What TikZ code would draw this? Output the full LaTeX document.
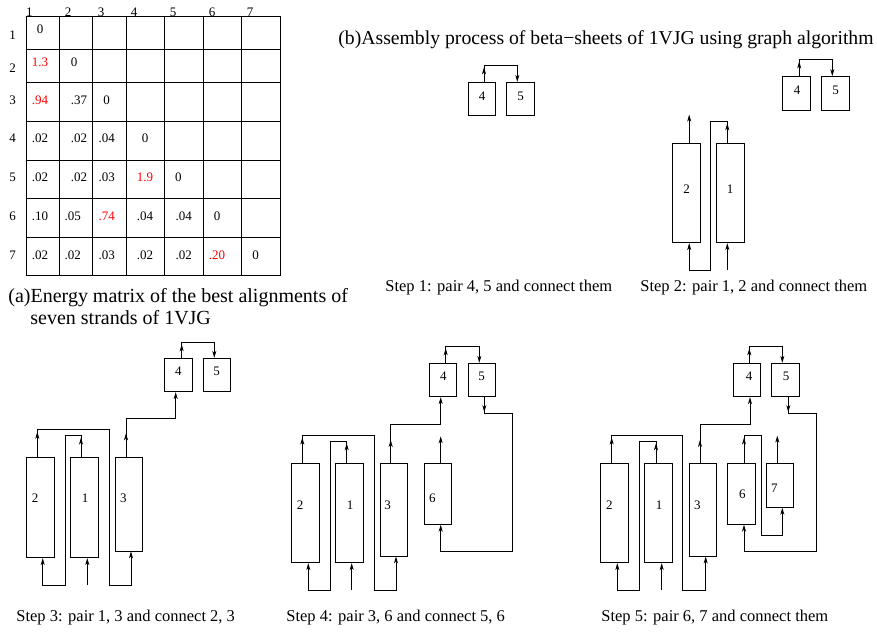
\documentclass[tikz,border=0pt]{standalone}
\usepackage{fontspec}
\setmainfont{Liberation Serif}
\usetikzlibrary{arrows.meta,decorations.markings}
\begin{document}
\begin{tikzpicture}[x=1pt,y=-1pt,
  >={Stealth[length=7pt,width=4pt,inset=2pt]},
  line width=0.8pt,
  bx/.style={draw, inner sep=0pt, minimum width=27.5pt},
  sq/.style={bx, minimum height=33.4pt},
  lab/.style={font=\fontsize{13}{15}\selectfont, inner sep=0pt},
  hi/.style={lab, text=red},
  stepcap/.style={font=\fontsize{16.5}{19}\selectfont, inner sep=0pt, anchor=west},
  bigcap/.style={font=\fontsize{20}{23}\selectfont, inner sep=0pt, anchor=west},
  arrowat/.style={postaction={decorate}, decoration={markings, mark=at position #1 with {\arrow{>}}}},
]
\useasboundingbox (0,0) rectangle (877,632);

% ---------- (a) matrix ----------
\foreach \x in {26.7,59.3,92.7,126,164.3,203,241.7,280.3} \draw[line width=1pt] (\x,16) -- (\x,275.7);
\foreach \y in {16,49.3,82.7,121.3,160,198.7,237.3,275.7} \draw[line width=1pt] (26.7,\y) -- (280.3,\y);
\foreach \x/\t [count=\i] in {29.3/1,68/2,101/3,134/4,173/5,212/6,250/7}
  \node[lab, anchor=base] (ch\i) at (\x,16) {\t};
\foreach \y/\t [count=\i] in {35/1,68/2,100.7/3,138/4,177/5,216.7/6,255/7}
  \node[lab] (rh\i) at (12.7,\y) {\t};
\node[lab] (m11) at (40,29) {0};
\node[hi]  (m21) at (40,62) {1.3};
\node[lab] (m22) at (74,62) {0};
\node[hi]  (m31) at (40,100.5) {.94};
\node[lab] (m32) at (79,100.5) {.37};
\node[lab] (m33) at (106.7,100.5) {0};
\node[lab] (m41) at (40,138) {.02};
\node[lab] (m42) at (79,138) {.02};
\node[lab] (m43) at (106.7,138) {.04};
\node[lab] (m44) at (145,138) {0};
\node[lab] (m51) at (40,177.3) {.02};
\node[lab] (m52) at (79,177.3) {.02};
\node[lab] (m53) at (106.7,177.3) {.03};
\node[hi]  (m54) at (145,177.3) {1.9};
\node[lab] (m55) at (178.3,177.3) {0};
\node[lab] (m61) at (40,216.7) {.10};
\node[lab] (m62) at (72.7,216.7) {.05};
\node[hi]  (m63) at (106.7,216.7) {.74};
\node[lab] (m64) at (145,216.7) {.04};
\node[lab] (m65) at (183.7,216.7) {.04};
\node[lab] (m66) at (217,216.7) {0};
\node[lab] (m71) at (40,255) {.02};
\node[lab] (m72) at (72.7,255) {.02};
\node[lab] (m73) at (106.7,255) {.03};
\node[lab] (m74) at (145,255) {.02};
\node[lab] (m75) at (183.7,255) {.02};
\node[hi]  (m76) at (217,255) {.20};
\node[lab] (m77) at (255.7,255) {0};
\node[bigcap] (capa1) at (8,298) {(a)Energy matrix of the best alignments of};
\node[bigcap] (capa2) at (30,318) {seven strands of 1VJG};

% ---------- (b) heading ----------
\node[bigcap, font=\fontsize{19.7}{22}\selectfont] (capb) at (338,40) {(b)Assembly process of beta−sheets of 1VJG using graph algorithm};

% ---------- Step 1 ----------
\node[sq] (s1d) at (482,99) {};
\node[sq] (s1e) at (520.5,99) {};
\node[lab] (s1dl) at (482,96) {4};
\node[lab] (s1el) at (520.5,96) {5};
\draw[->, arrowat=14.6pt] ([xshift=2]s1d.north) -- ++(0,-16.6) -| ([xshift=-3.2]s1e.north);
\node[stepcap] (cap1) at (385,288) {Step 1: pair 4, 5 and connect them};

% ---------- Step 2 ----------
\node[sq] (s2d) at (796.2,93.3) {};
\node[sq] (s2e) at (835.5,93.3) {};
\node[lab] (s2dl) at (797,90) {4};
\node[lab] (s2el) at (835.7,90) {5};
\draw[->, arrowat=14.7pt] ([xshift=3]s2d.north) -- ++(0,-16.7) -| ([xshift=-3.2]s2e.north);
\node[bx, minimum height=99.4pt] (s2b) at (686.2,193) {};
\node[bx, minimum height=99.4pt] (s2a) at (730.5,193) {};
\node[lab] (s2bl) at (686.7,189.3) {2};
\node[lab] (s2al) at (730,189.3) {1};
\draw[->] ([xshift=3]s2b.north) -- ++(0,-28.3);
\draw[->, arrowat=19.6pt] ([xshift=-3.2]s2a.north) -- ++(0,-21.6) -| (710.7,270) -| ([xshift=3]s2b.south);
\coordinate (s2f) at (727.3,270);
\draw[->] (s2f) -- (s2f |- s2a.south);
\node[stepcap] (cap2) at (640,288) {Step 2: pair 1, 2 and connect them};

% ---------- Step 3 ----------
\node[bx, minimum height=100pt] (s3b) at (40.3,507.7) {};
\node[bx, minimum height=100pt] (s3a) at (84.5,507.7) {};
\node[bx, minimum height=93.3pt] (s3c) at (128.8,504.3) {};
\node[sq] (s3d) at (178.3,375) {};
\node[sq] (s3e) at (216.7,375) {};
\node[lab] (s3bl) at (35,498.3) {2};
\node[lab] (s3al) at (85,498.3) {1};
\node[lab] (s3cl) at (123.3,498.3) {3};
\node[lab] (s3dl) at (178.3,371.7) {4};
\node[lab] (s3el) at (216.7,371.7) {5};
\draw[->, arrowat=13.6pt] ([xshift=3.4]s3d.north) -- ++(0,-15.6) -| ([xshift=-2.4]s3e.north);
\draw[->, arrowat=24pt] ([xshift=-2.8]s3c.north) -- ++(0,-38.4) -| ([xshift=-2.6]s3d.south);
\draw[->, arrowat=25.5pt] ([xshift=-3]s3b.north) -- ++(0,-27.7) -| (109.3,585) -| ([xshift=2.2]s3c.south);
\draw[->, arrowat=19.7pt] ([xshift=-3.5]s3a.north) -- ++(0,-21.7) -| (65,585) -| ([xshift=2.4]s3b.south);
\coordinate (s3f) at (87.3,585);
\draw[->] (s3f) -- (s3f |- s3a.south);
\node[stepcap] (cap3) at (16,618) {Step 3: pair 1, 3 and connect 2, 3};

% ---------- Step 4 ----------
\node[bx, minimum height=99.4pt] (s4b) at (305.5,513) {};
\node[bx, minimum height=99.4pt] (s4a) at (349.5,513) {};
\node[bx, minimum height=92.7pt] (s4c) at (393.7,509.7) {};
\node[bx, minimum height=61pt] (s4f) at (437.8,493.8) {};
\node[sq] (s4d) at (442.8,380) {};
\node[sq] (s4e) at (481.7,380) {};
\node[lab] (s4bl) at (300,505) {2};
\node[lab] (s4al) at (350,505) {1};
\node[lab] (s4cl) at (387.7,505) {3};
\node[lab] (s4fl) at (432.3,498.3) {6};
\node[lab] (s4dl) at (443.3,376.7) {4};
\node[lab] (s4el) at (481.7,376.7) {5};
\draw[->, arrowat=14.6pt] ([xshift=2.9]s4d.north) -- ++(0,-16.6) -| ([xshift=-2.4]s4e.north);
\draw[->, arrowat=23pt] ([xshift=-3]s4c.north) -- ++(0,-38.3) -| ([xshift=-2.1]s4d.south);
\draw[->, arrowat=25.3pt] ([xshift=-3.2]s4b.north) -- ++(0,-27.3) -| (374,590) -| ([xshift=2.3]s4c.south);
\draw[->, arrowat=19.6pt] ([xshift=-2.8]s4a.north) -- ++(0,-21.6) -| (330,590) -| ([xshift=2.8]s4b.south);
\coordinate (s4g) at (351.7,590);
\draw[->] (s4g) -- (s4g |- s4a.south);
\draw[->] ([xshift=2.9]s4f.north) -- ++(0,-26.6);
\draw[->, arrowat=15pt] ([xshift=2.6]s4e.south) -- ++(0,16.6) -| (512.3,551.7) -| ([xshift=2.9]s4f.south);
\node[stepcap] (cap4) at (286,618) {Step 4: pair 3, 6 and connect 5, 6};

% ---------- Step 5 ----------
\node[bx, minimum height=99.4pt] (s5b) at (614.5,513) {};
\node[bx, minimum height=99.4pt] (s5a) at (658.3,513) {};
\node[bx, minimum height=92.7pt] (s5c) at (703,509.7) {};
\node[bx, minimum height=61pt] (s5f) at (741.3,493.8) {};
\node[bx, minimum height=44pt] (s5g) at (780,485.3) {};
\node[sq] (s5d) at (746.8,380) {};
\node[sq] (s5e) at (785.5,380) {};
\node[lab] (s5bl) at (609.3,505) {2};
\node[lab] (s5al) at (659,505) {1};
\node[lab] (s5cl) at (697.3,505) {3};
\node[lab] (s5fl) at (742.3,494) {6};
\node[lab] (s5gl) at (774.3,488.3) {7};
\node[lab] (s5dl) at (749,376.7) {4};
\node[lab] (s5el) at (786,376.7) {5};
\draw[->, arrowat=14.6pt] ([xshift=2.5]s5d.north) -- ++(0,-16.6) -| ([xshift=-3.2]s5e.north);
\draw[->, arrowat=23pt] ([xshift=-3]s5c.north) -- ++(0,-38.3) -| ([xshift=3.2]s5d.south);
\draw[->, arrowat=25.3pt] ([xshift=-2.8]s5b.north) -- ++(0,-27.3) -| (682.7,590) -| ([xshift=2.7]s5c.south);
\draw[->, arrowat=19.6pt] ([xshift=-2.3]s5a.north) -- ++(0,-21.6) -| (639.3,590) -| ([xshift=2.8]s5b.south);
\coordinate (s5h) at (661.7,590);
\draw[->] (s5h) -- (s5h |- s5a.south);
\draw[->, arrowat=25.3pt] ([xshift=2.7]s5f.north) -- ++(0,-27.3) -| (761,535) -| ([xshift=2.3]s5g.south);
\draw[->] ([xshift=-2.7]s5g.north) -- ++(0,-27.3);
\draw[->, arrowat=15pt] ([xshift=2.8]s5e.south) -- ++(0,16.6) -| (816.7,551.7) -| ([xshift=2.7]s5f.south);
\node[stepcap] (cap5) at (601,618) {Step 5: pair 6, 7 and connect them};
\end{tikzpicture}
\end{document}
